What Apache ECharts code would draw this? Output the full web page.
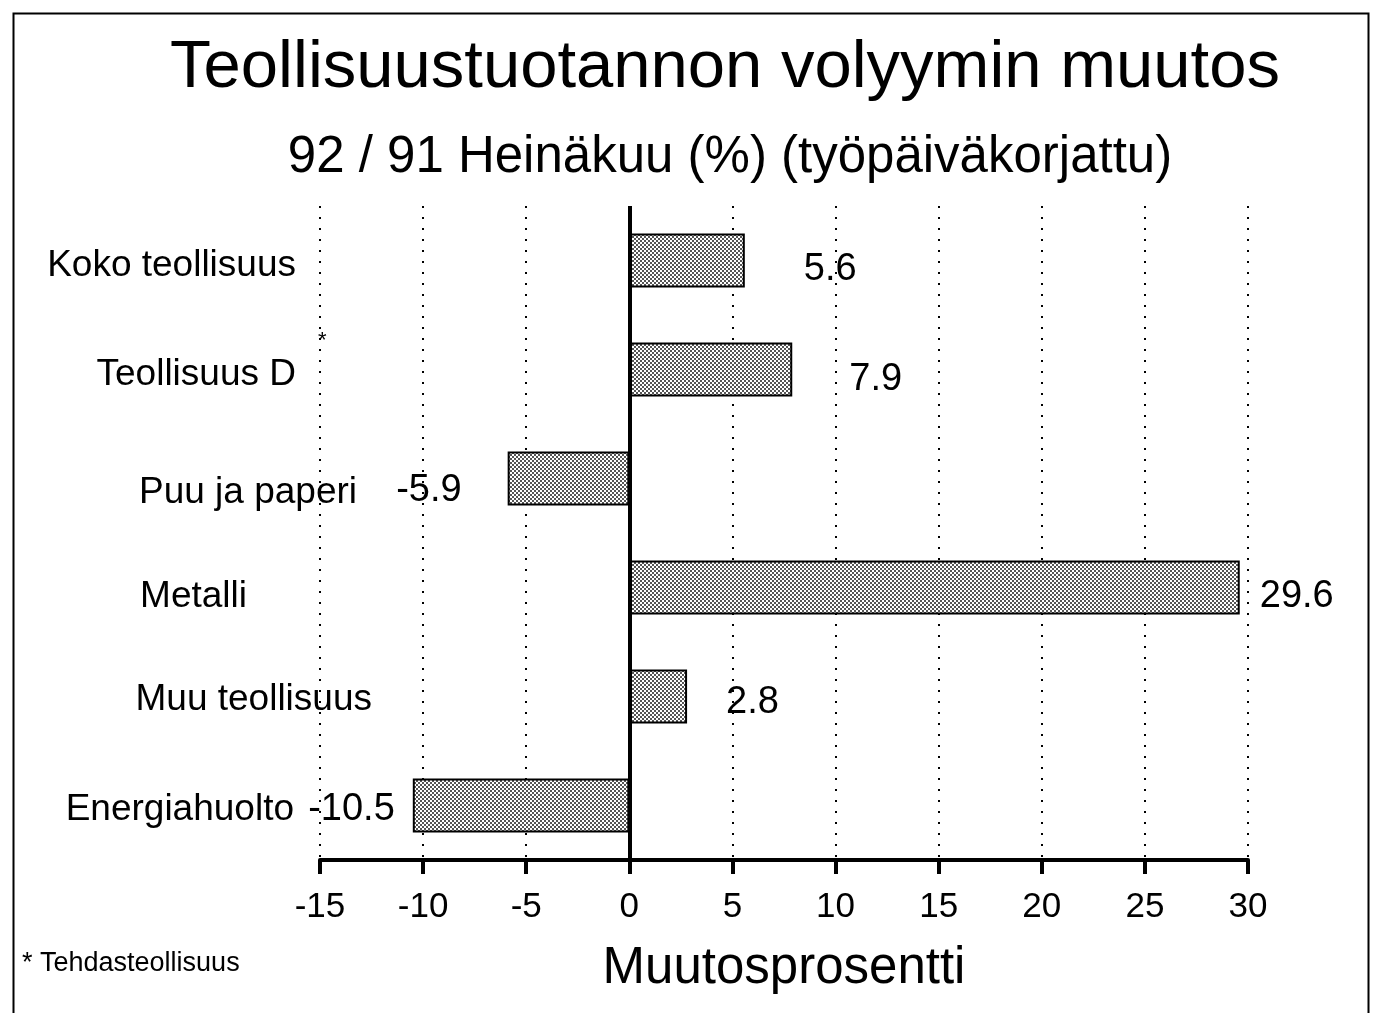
<!DOCTYPE html>
<html>
<head>
<meta charset="utf-8">
<script src="https://cdn.jsdelivr.net/npm/echarts@6/dist/echarts.min.js"></script>
<style>
  html, body { margin: 0; padding: 0; background: #fff; }
  #chart { width: 1373px; height: 1013px; }
</style>
</head>
<body>
<div id="chart"></div>
<script>
// data
const categories = ['Koko teollisuus', 'Teollisuus D', 'Puu ja paperi', 'Metalli', 'Muu teollisuus', 'Energiahuolto'];
const values = [5.6, 7.9, -5.9, 29.6, 2.8, -10.5];
const xTicks = [-15, -10, -5, 0, 5, 10, 15, 20, 25, 30];

const titleText = 'Teollisuustuotannon volyymin muutos';
const subText = '92 / 91 Heinäkuu (%) (työpäiväkorjattu)';
const axisName = 'Muutosprosentti';
const footnote = '* Tehdasteollisuus';

const FONT = '"Liberation Sans", Arial, Helvetica, sans-serif';

// screen-like dot fill for the bars
const pat = document.createElement('canvas');
pat.width = 4; pat.height = 4;
const pctx = pat.getContext('2d');
pctx.fillStyle = '#fff';
pctx.fillRect(0, 0, 4, 4);
pctx.fillStyle = '#555';
pctx.fillRect(0, 0, 2, 2);
pctx.fillRect(2, 2, 2, 2);

// hand placement of labels, as in the original layout
// category labels: [top, right, bottom, left] padding, right-aligned at x=372
const catPad = [[10, 76, 0, 0], [10, 76, 0, 0], [28, 15, 0, 0], [18, 125, 0, 0], [6, 0, 0, 0], [8, 78, 0, 0]];
const valDist = [59, 57, 46, 20, 39, 18];
const valDy = [9, 10, 12, 9, 6, 4];

const rich = {};
catPad.forEach((p, i) => {
  rich['c' + i] = { padding: p, fontSize: 37, color: '#000', fontFamily: FONT };
});

const chart = echarts.init(document.getElementById('chart'));

chart.setOption({
  animation: false,
  backgroundColor: '#fff',
  textStyle: { fontFamily: FONT, color: '#000' },
  title: [
    { text: titleText, left: 720, top: 30, textAlign: 'center',
      textStyle: { fontSize: 67, fontWeight: 'normal', color: '#000', fontFamily: FONT } },
    { text: subText, left: 725, top: 127, textAlign: 'center',
      textStyle: { fontSize: 51, fontWeight: 'normal', color: '#000', fontFamily: FONT } }
  ],
  grid: { left: 320, right: 125, top: 206, bottom: 153, outerBoundsMode: 'none', containLabel: false },
  xAxis: {
    type: 'value',
    min: xTicks[0],
    max: xTicks[xTicks.length - 1],
    interval: 5,
    name: axisName,
    nameLocation: 'middle',
    nameGap: 83,
    nameTextStyle: { fontSize: 51, color: '#000', fontFamily: FONT },
    axisLine: { show: true, lineStyle: { color: '#000', width: 4 } },
    axisTick: { show: true, length: 14, lineStyle: { color: '#000', width: 4 } },
    axisLabel: { fontSize: 35, color: '#000', margin: 30, fontFamily: FONT },
    splitLine: { show: true, lineStyle: { color: '#000', width: 2, type: [2, 9] } }
  },
  yAxis: {
    type: 'category',
    inverse: true,
    data: categories,
    axisLine: { show: false },
    axisTick: { show: false },
    axisLabel: {
      fontSize: 37, color: '#000', margin: -52, fontFamily: FONT,
      formatter: (v, i) => '{c' + i + '|' + v + '}',
      rich: rich
    }
  },
  series: [{
    type: 'bar',
    barWidth: 54,
    data: values.map((v, i) => ({
      value: v,
      label: {
        position: v >= 0 ? 'right' : 'left',
        distance: valDist[i],
        offset: [0, valDy[i]]
      }
    })),
    itemStyle: { color: { image: pat, repeat: 'repeat' }, borderColor: '#000', borderWidth: 2 },
    label: { show: true, fontSize: 38, color: '#000', fontFamily: FONT },
    markLine: {
      silent: true,
      symbol: 'none',
      label: { show: false },
      lineStyle: { color: '#000', width: 4, type: 'solid' },
      data: [{ xAxis: 0 }]
    }
  }],
  graphic: [
    { type: 'rect', left: 11, top: 11, silent: true,
      shape: { width: 1355, height: 1040 },
      style: { fill: null, stroke: '#000', lineWidth: 2 } },
    { type: 'text', left: 22, top: 950,
      style: { text: footnote, fill: '#000', font: '27px ' + FONT } },
    { type: 'text', left: 318, top: 330,
      style: { text: '*', fill: '#000', font: '22px ' + FONT } }
  ]
});
</script>
</body>
</html>
